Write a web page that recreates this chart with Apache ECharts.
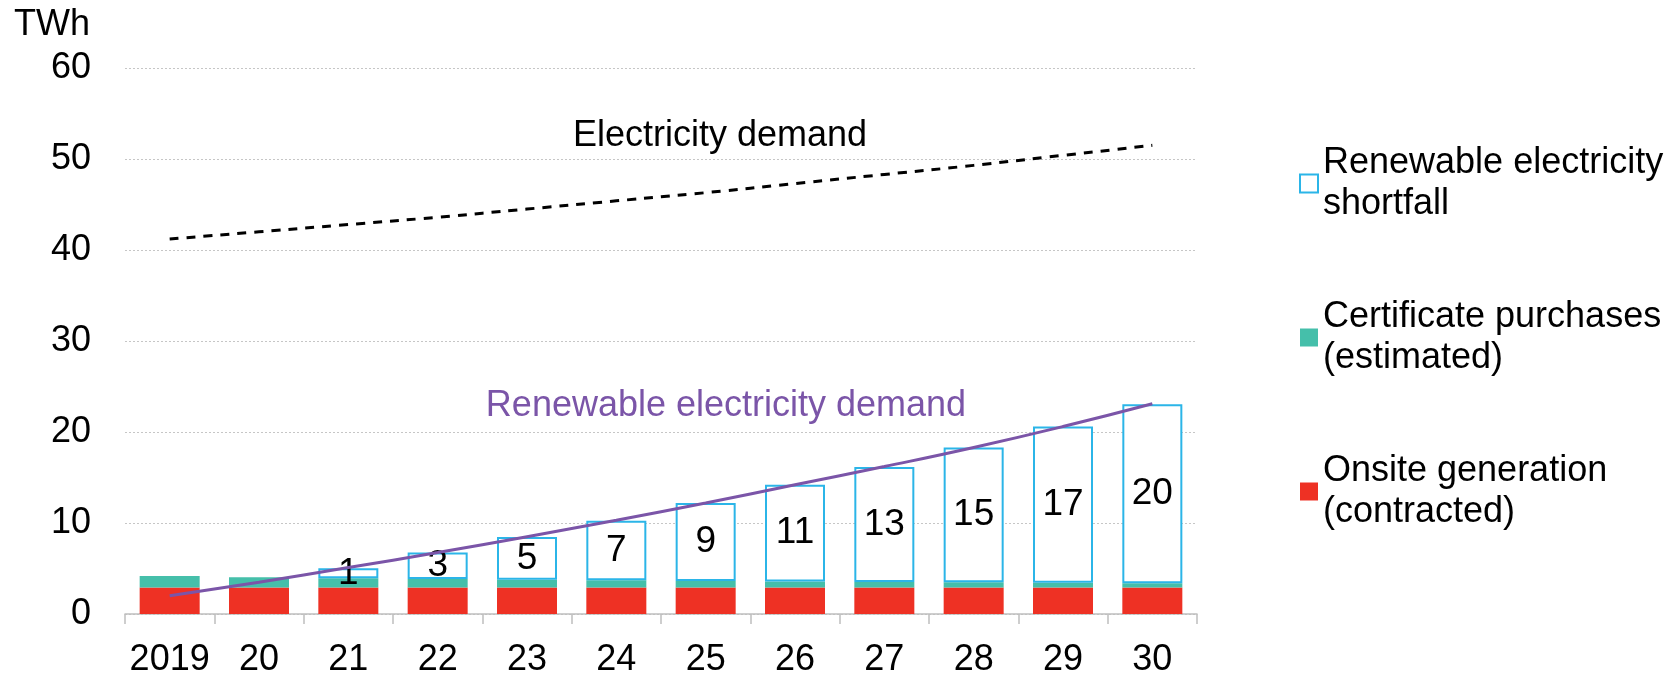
<!DOCTYPE html>
<html>
<head>
<meta charset="utf-8">
<script src="https://cdn.jsdelivr.net/npm/echarts@6/dist/echarts.min.js"></script>
<style>
html,body{margin:0;padding:0;background:#fff;}
#chart{width:1677px;height:675px;}
</style>
</head>
<body>
<div id="chart"></div>
<script>
var categories = ['2019','20','21','22','23','24','25','26','27','28','29','30'];
var onsiteGeneration = [2.9,2.9,2.9,2.9,2.9,2.9,2.9,2.9,2.9,2.9,2.9,2.9];
var certificatePurchases = [1.27,1.13,1.02,0.95,0.87,0.8,0.74,0.68,0.63,0.58,0.53,0.48];
var shortfall = [null,null,1.1,2.9,4.68,6.55,8.56,10.62,12.62,14.82,17.17,19.67];
var shortfallLabels = ['','','1','3','5','7','9','11','13','15','17','20'];
var renewableDemand = [2.0,3.5,5.1,6.75,8.5,10.3,12.2,14.2,16.2,18.3,20.6,23.1];
var electricityDemand = [41.2,42.0,42.8,43.6,44.5,45.4,46.3,47.3,48.3,49.3,50.4,51.5];
var yTicks = {min:0, max:60, interval:10};

var FONT = '"Liberation Sans", Arial, sans-serif';
var chart = echarts.init(document.getElementById('chart'));
chart.setOption({
  animation:false,
  backgroundColor:'#fff',
  textStyle:{fontFamily:FONT},
  grid:{left:125, right:480, top:68, bottom:61, containLabel:false, outerBoundsMode:'none'},
  legend:{
    orient:'vertical', left:1299, top:122, padding:0,
    itemWidth:18, itemHeight:18, itemGap:31, icon:'rect',
    data:['Renewable electricity shortfall','Certificate purchases (estimated)','Onsite generation (contracted)'],
    formatter:function(n){
      return {
        'Renewable electricity shortfall':'Renewable electricity\nshortfall',
        'Certificate purchases (estimated)':'Certificate purchases\n(estimated)',
        'Onsite generation (contracted)':'Onsite generation\n(contracted)'
      }[n];
    },
    textStyle:{fontFamily:FONT, fontSize:36, color:'#000', lineHeight:41, padding:[41,0,0,0]}
  },
  xAxis:{
    type:'category', data:categories,
    axisLine:{lineStyle:{color:'#BFBFBF', width:1.5}},
    axisTick:{show:true, length:10, lineStyle:{color:'#BFBFBF', width:1.5}},
    axisLabel:{interval:0, fontFamily:FONT, fontSize:36, color:'#000', margin:28}
  },
  yAxis:{
    type:'value', min:yTicks.min, max:yTicks.max, interval:yTicks.interval,
    name:'TWh', nameLocation:'end', nameGap:43,
    nameTextStyle:{fontFamily:FONT, fontSize:36, color:'#000', align:'right', verticalAlign:'middle', padding:[0,35,0,0]},
    axisLine:{show:false}, axisTick:{show:false},
    axisLabel:{fontFamily:FONT, fontSize:36, color:'#000', margin:34},
    splitLine:{lineStyle:{color:'#C6C6C6', type:[2,2], width:1}}
  },
  series:[
    {name:'Onsite generation (contracted)', type:'bar', stack:'s', barWidth:60,
     data:onsiteGeneration, itemStyle:{color:'#EE3124'}},
    {name:'Certificate purchases (estimated)', type:'bar', stack:'s', barWidth:60,
     data:certificatePurchases, itemStyle:{color:'#45BFAA'}},
    {name:'Renewable electricity shortfall', type:'bar', stack:'s', barWidth:60,
     data:shortfall, itemStyle:{color:'#ffffff', borderColor:'#2BB5E8', borderWidth:2},
     label:{show:true, position:'inside', fontFamily:FONT, fontSize:37, color:'#000',
       formatter:function(p){return shortfallLabels[p.dataIndex];}}},
    {name:'Electricity demand', type:'line', data:electricityDemand, smooth:true, showSymbol:false,
     lineStyle:{color:'#000', width:3, type:[9,8]}, z:5},
    {name:'Renewable electricity demand', type:'line', data:renewableDemand, smooth:true, showSymbol:false,
     lineStyle:{color:'#7B55A8', width:3}, z:5}
  ],
  graphic:[
    {type:'text', x:720, y:136, style:{text:'Electricity demand', font:'36px '+FONT, fill:'#000', align:'center', verticalAlign:'middle'}},
    {type:'text', x:726, y:406, style:{text:'Renewable electricity demand', font:'36px '+FONT, fill:'#7B55A8', align:'center', verticalAlign:'middle'}}
  ]
});
</script>
</body>
</html>
